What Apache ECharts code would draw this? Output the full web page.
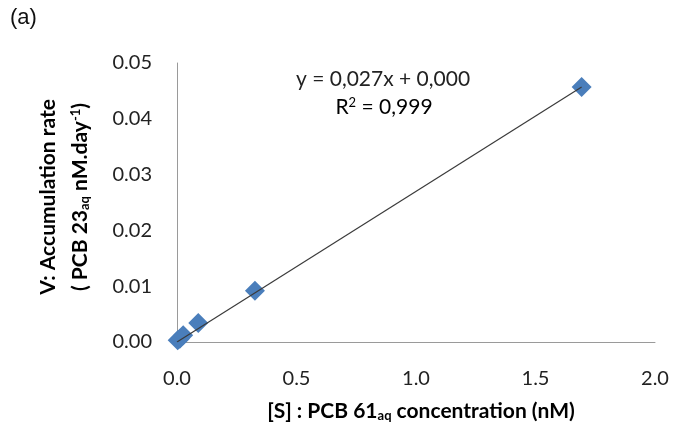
<!DOCTYPE html>
<html>
<head>
<meta charset="utf-8">
<script src="https://cdn.jsdelivr.net/npm/echarts@6/dist/echarts.min.js"></script>
<style>
  html, body { margin: 0; padding: 0; background: #fff; }
  #chart { width: 673px; height: 425px; }
</style>
</head>
<body>
<div id="chart"></div>
<script>
// Measured points: substrate concentration (nM) vs accumulation rate (nM/day)
const concentration = [0.003, 0.012, 0.026, 0.089, 0.326, 1.693];
const rate = [0.0003, 0.0006, 0.0012, 0.0034, 0.0092, 0.0457];

// Linear fit reported on the chart
const slope = 0.027;
const intercept = 0.000;
const fitRange = [0, 1.693];

const xTicks = { min: 0, max: 2.0, interval: 0.5 };
const yTicks = { min: 0, max: 0.05, interval: 0.01 };

const points = concentration.map((c, i) => [c, rate[i]]);
const fitLine = fitRange.map(x => [x, slope * x + intercept]);

const font = 'Lato, "Open Sans", sans-serif';
const chart = echarts.init(document.getElementById('chart'), null, { renderer: 'canvas' });

chart.setOption({
  animation: false,
  backgroundColor: '#fff',
  grid: { left: 177, right: 18, top: 63, bottom: 83 },
  xAxis: {
    type: 'value',
    min: xTicks.min, max: xTicks.max, interval: xTicks.interval,
    axisLine: { lineStyle: { color: '#9a9a9a', width: 1 } },
    axisTick: { show: false },
    splitLine: { show: false },
    axisLabel: {
      color: '#222', fontFamily: font, fontSize: 20, margin: 27,
      formatter: v => v.toFixed(1)
    }
  },
  yAxis: {
    type: 'value',
    min: yTicks.min, max: yTicks.max, interval: yTicks.interval,
    axisLine: { show: true, lineStyle: { color: '#9a9a9a', width: 1 } },
    axisTick: { show: false },
    splitLine: { show: false },
    axisLabel: {
      color: '#222', fontFamily: font, fontSize: 20, margin: 25,
      formatter: v => v.toFixed(2)
    }
  },
  series: [
    {
      type: 'scatter',
      data: points,
      symbol: 'diamond',
      symbolSize: [20, 20],
      itemStyle: { color: '#4a7ebb', opacity: 1 },
      z: 2
    },
    {
      type: 'line',
      data: fitLine,
      showSymbol: false,
      lineStyle: { color: '#3a3a3a', width: 1.2 },
      z: 3
    }
  ],
  graphic: [
    {
      type: 'text', left: 10, top: 7,
      style: { text: '(a)', font: '22px "Liberation Sans", Arial, sans-serif', fill: '#111' }
    },
    {
      type: 'text', x: 383, y: 79,
      style: {
        text: 'y = 0,027x + 0,000', font: '21px ' + font, fill: '#222',
        align: 'center', verticalAlign: 'middle'
      }
    },
    {
      type: 'text', x: 384, y: 107,
      style: {
        text: '{t|R}{s|2}{t| = 0,999}',
        align: 'center', verticalAlign: 'middle',
        rich: {
          t: { font: '21px ' + font, color: '#222' },
          s: { font: '13px ' + font, color: '#222', padding: [0, 0, 9, 0] }
        }
      }
    },
    {
      type: 'text', x: 421, y: 411,
      style: {
        text: '{b|[S] : PCB 61}{sub|aq}{b| concentration (nM)}',
        align: 'center', verticalAlign: 'middle',
        rich: {
          b: { fontFamily: font, fontWeight: 'bold', fontSize: 21, color: '#111' },
          sub: { fontFamily: font, fontWeight: 'bold', fontSize: 13, color: '#111', padding: [9, 0, 0, 0] }
        }
      }
    },
    {
      type: 'text', x: 48, y: 197, rotation: Math.PI / 2,
      style: {
        text: '{b|V: Accumulation rate}',
        align: 'center', verticalAlign: 'middle',
        rich: { b: { fontFamily: font, fontWeight: 'bold', fontSize: 21, color: '#111' } }
      }
    },
    {
      type: 'text', x: 80, y: 197, rotation: Math.PI / 2,
      style: {
        text: '{b|( PCB 23}{sub|aq}{b| nM.day}{sup|-1}{b|)}',
        align: 'center', verticalAlign: 'middle',
        rich: {
          b: { fontFamily: font, fontWeight: 'bold', fontSize: 21, color: '#111' },
          sub: { fontFamily: font, fontWeight: 'bold', fontSize: 13, color: '#111', padding: [9, 0, 0, 0] },
          sup: { fontFamily: font, fontWeight: 'bold', fontSize: 13, color: '#111', padding: [0, 0, 9, 0] }
        }
      }
    }
  ]
});
</script>
</body>
</html>
